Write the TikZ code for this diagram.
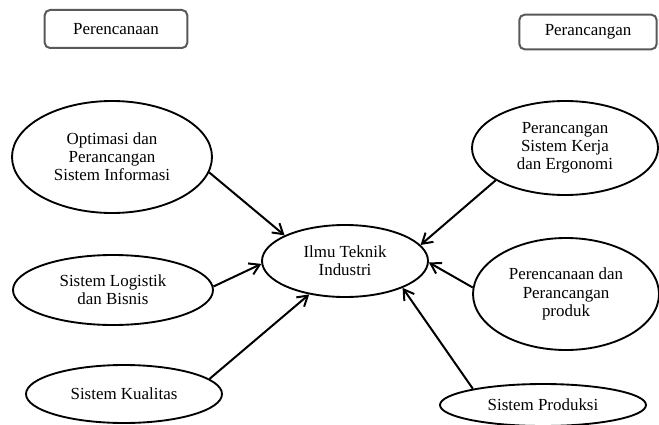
\documentclass[tikz,border=0pt]{standalone}
\usepackage{fontspec}
\setmainfont{Liberation Serif}
\usetikzlibrary{shapes.geometric,arrows.meta}

\begin{document}
\begin{tikzpicture}[x=0.75pt, y=-0.75pt,
    topic/.style={ellipse, draw=black, line width=1.4pt, fill=white, align=center, inner sep=0pt, font=\fontsize{12.7}{13.6}\selectfont},
    tag/.style={rectangle, rounded corners=4pt, draw=black!65, line width=1.5pt, fill=white, align=center, font=\fontsize{12.7}{13.6}\selectfont},
    inarrow/.style={-{Straight Barb[length=2.6mm, width=3.2mm]}, line width=1.5pt, black}
  ]
    \useasboundingbox (0,0) rectangle (659,424);

    % Labels at the top
    \node[tag, minimum width=107pt, minimum height=28.5pt] (plan) at (116, 29) {Perencanaan};
    \node[tag, minimum width=103pt, minimum height=26pt] (design) at (588, 32) {Perancangan};

    % Centre
    \node[topic, minimum width=124.5pt, minimum height=54pt] (ilmu) at (345, 261) {Ilmu Teknik\\Industri};

    % Left branches
    \node[topic, minimum width=150pt, minimum height=84pt] (optim) at (112, 157) {Optimasi dan\\Perancangan\\Sistem Informasi};
    \node[topic, minimum width=150pt, minimum height=52.5pt] (logis) at (113, 290) {Sistem Logistik\\dan Bisnis};
    \node[topic, minimum width=147pt, minimum height=43.5pt] (kual) at (124, 394) {Sistem Kualitas};

    % Right branches
    \node[topic, minimum width=139.5pt, minimum height=70.5pt] (kerja) at (565, 148) {Perancangan\\Sistem Kerja\\dan Ergonomi};
    \node[topic, minimum width=139.5pt, minimum height=84pt] (produk) at (566, 294) {Perencanaan dan\\Perancangan\\produk};
    \node[topic, minimum width=154.5pt, minimum height=31.5pt] (prod) at (543, 405) {Sistem Produksi};

    % Arrows into the centre
    \draw[inarrow] (optim.-9) -- (ilmu.157);
    \draw[inarrow] (logis.2) -- (ilmu.-178);
    \draw[inarrow] (kual.10) -- (ilmu.-137);
    \draw[inarrow] (kerja.-155) -- (ilmu.12);
    \draw[inarrow] (produk.176) -- (ilmu.-1);
    \draw[inarrow] (prod.167) -- (ilmu.-25);
\end{tikzpicture}
\end{document}
